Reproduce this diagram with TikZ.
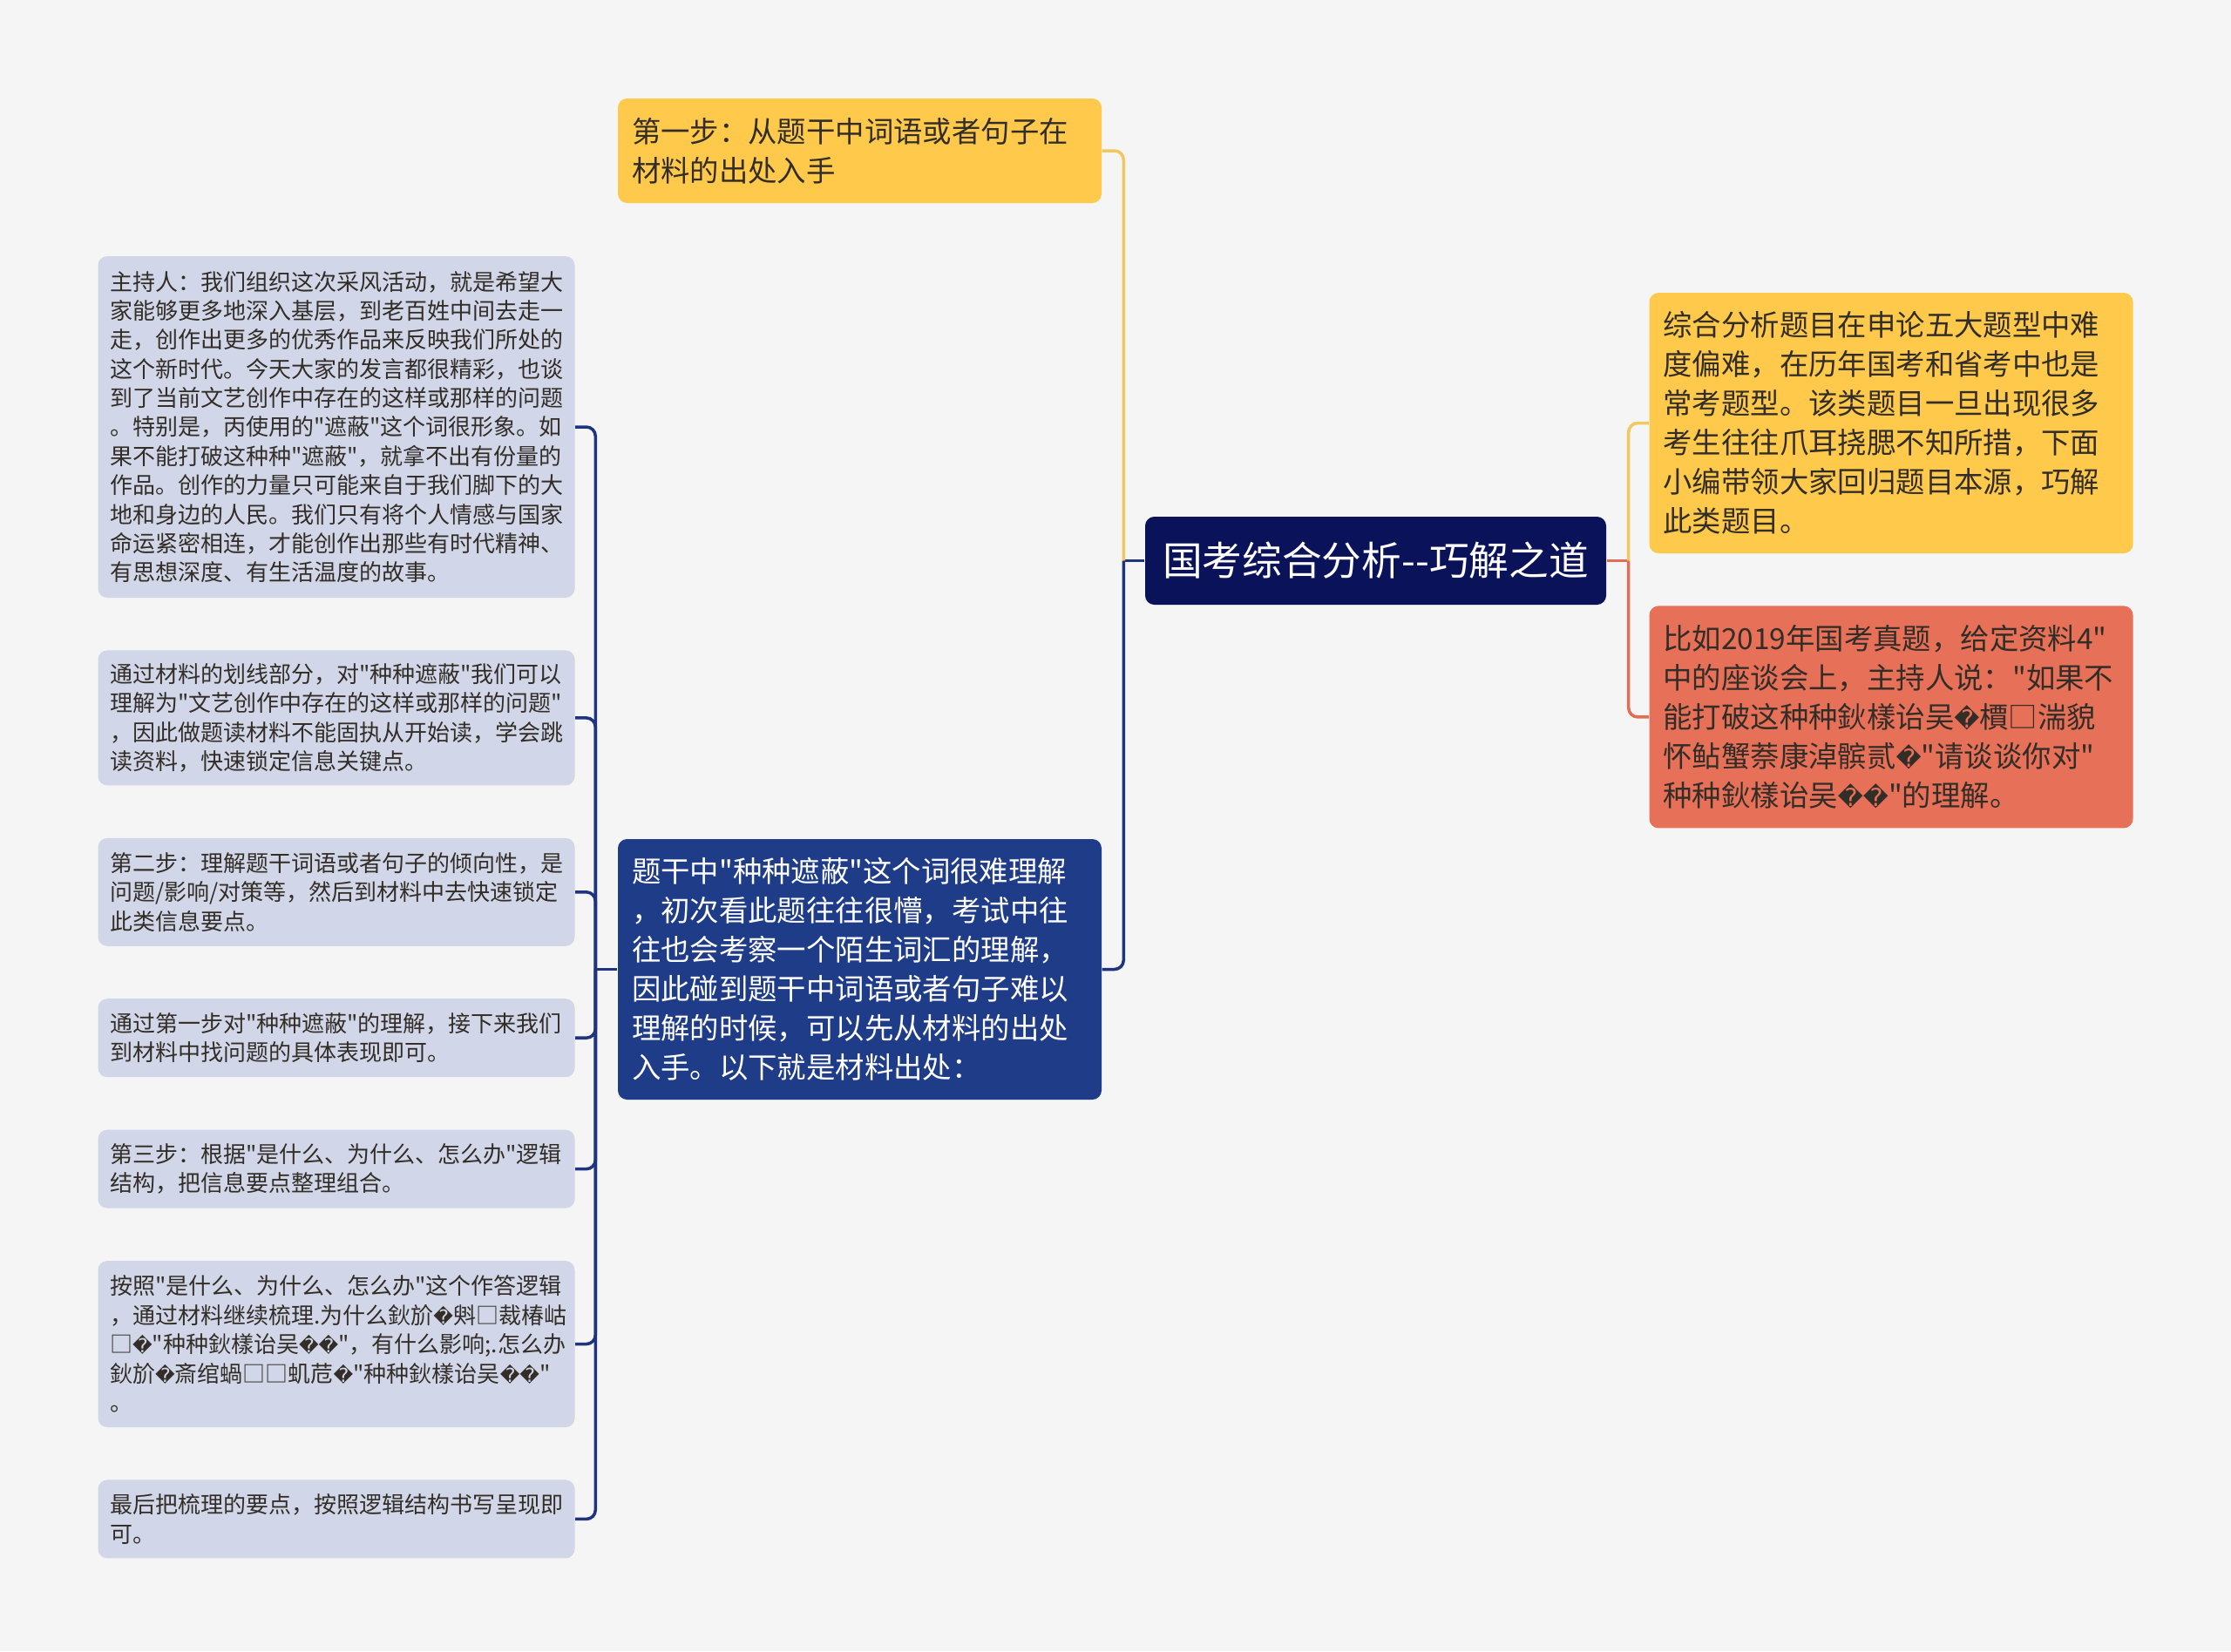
\documentclass[tikz,border=0pt]{standalone}
\usepackage{fontspec}
\newfontfamily\cjk{Noto Sans CJK SC}
\newfontfamily\repfont{DejaVu Sans}[Scale=0.85]
\newcommand\qm{{\repfont\char"FFFD}}
\usetikzlibrary{positioning}
\definecolor{bgcol}{RGB}{245,245,245}
\definecolor{rootnavy}{RGB}{10,18,90}
\definecolor{midblue}{RGB}{31,60,136}
\definecolor{sunny}{RGB}{255,201,76}
\definecolor{coral}{RGB}{230,112,88}
\definecolor{leafgray}{RGB}{209,215,232}
\definecolor{inkdark}{RGB}{51,45,40}
\definecolor{lineyellow}{RGB}{242,200,92}
\definecolor{lineblue}{RGB}{30,52,128}
\definecolor{linered}{RGB}{226,110,86}
\tikzstyle{topic} = [rectangle, rounded corners=3pt, fill=rootnavy, text=white, font=\cjk\fontsize{13pt}{16pt}\selectfont, inner xsep=0pt, minimum width=5.29cm, minimum height=1.01cm, align=center]
\tikzstyle{card} = [rectangle, rounded corners=3pt, text=inkdark, font=\cjk\fontsize{9.5pt}{12.8pt}\selectfont, text width=5.23cm, inner xsep=0.16cm, align=left]
\tikzstyle{leaf} = [rectangle, rounded corners=3pt, fill=leafgray, text=inkdark, font=\cjk\fontsize{7.4pt}{9.5pt}\selectfont, text width=5.2cm, inner xsep=0.135cm, align=left]
\tikzstyle{link} = [line width=1pt, rounded corners=3pt]

\begin{document}
\begin{tikzpicture}
            \fill[bgcol] (0,0) rectangle (25.6,-18.95);

            \node (root) [topic] at (15.785,-6.435) {国考综合分析--巧解之道};
            \node (stepone) [card, fill=sunny, minimum height=1.20cm] at (9.865,-1.73) {第一步：从题干中词语或者句子在\\材料的出处入手};
            \node (source) [card, fill=midblue, text=white, minimum height=2.99cm] at (9.865,-11.125) {题干中"种种遮蔽"这个词很难理解\\，初次看此题往往很懵，考试中往\\往也会考察一个陌生词汇的理解，\\因此碰到题干中词语或者句子难以\\理解的时候，可以先从材料的出处\\入手。以下就是材料出处：};
            \node (overview) [card, fill=sunny, minimum height=2.99cm] at (21.70,-4.855) {综合分析题目在申论五大题型中难\\度偏难，在历年国考和省考中也是\\常考题型。该类题目一旦出现很多\\考生往往爪耳挠腮不知所措，下面\\小编带领大家回归题目本源，巧解\\此类题目。};
            \node (example) [card, fill=coral, minimum height=2.55cm, below=0.59cm of overview] {比如2019年国考真题，给定资料4"\\中的座谈会上，主持人说："如果不\\能打破这种种鈥樣诒吴\qm 檟□湍貌\\怀鲇蟹萘康淖髌贰\qm"请谈谈你对"\\种种鈥樣诒吴\qm\qm"的理解。};

            \node (quote) [leaf, minimum height=3.92cm] at (3.86,-4.90) {主持人：我们组织这次采风活动，就是希望大\\家能够更多地深入基层，到老百姓中间去走一\\走，创作出更多的优秀作品来反映我们所处的\\这个新时代。今天大家的发言都很精彩，也谈\\到了当前文艺创作中存在的这样或那样的问题\\。特别是，丙使用的"遮蔽"这个词很形象。如\\果不能打破这种种"遮蔽"，就拿不出有份量的\\作品。创作的力量只可能来自于我们脚下的大\\地和身边的人民。我们只有将个人情感与国家\\命运紧密相连，才能创作出那些有时代精神、\\有思想深度、有生活温度的故事。};
            \node (reading) [leaf, minimum height=1.55cm, below=0.59cm of quote] {通过材料的划线部分，对"种种遮蔽"我们可以\\理解为"文艺创作中存在的这样或那样的问题"\\，因此做题读材料不能固执从开始读，学会跳\\读资料，快速锁定信息关键点。};
            \node (steptwo) [leaf, minimum height=1.24cm, below=0.59cm of reading] {第二步：理解题干词语或者句子的倾向性，是\\问题/影响/对策等，然后到材料中去快速锁定\\此类信息要点。};
            \node (findout) [leaf, minimum height=0.90cm, below=0.59cm of steptwo] {通过第一步对"种种遮蔽"的理解，接下来我们\\到材料中找问题的具体表现即可。};
            \node (stepthree) [leaf, minimum height=0.90cm, below=0.59cm of findout] {第三步：根据"是什么、为什么、怎么办"逻辑\\结构，把信息要点整理组合。};
            \node (sortout) [leaf, minimum height=1.91cm, below=0.59cm of stepthree] {按照"是什么、为什么、怎么办"这个作答逻辑\\，通过材料继续梳理.为什么鈥斺\qm 斞□裁椿岵\\□\qm"种种鈥樣诒吴\qm\qm"，有什么影响;.怎么办\\鈥斺\qm 斎绾蝸□□虮苊\qm"种种鈥樣诒吴\qm\qm"\\。};
            \node (finish) [leaf, minimum height=0.90cm, below=0.59cm of sortout] {最后把梳理的要点，按照逻辑结构书写呈现即\\可。};

            \coordinate [left=0.24cm of root.west] (lj);
            \coordinate [right=0.25cm of root.east] (rj);
            \coordinate [left=0.25cm of source.west] (sj);

            \draw [link, lineblue] (root.west) -- (lj);
            \draw [link, lineyellow] (lj) |- (stepone.east);
            \draw [link, lineblue] (lj) |- (source.east);
            \draw [link, linered] (root.east) -- (rj);
            \draw [link, lineyellow] (rj) |- (overview.west);
            \draw [link, linered] (rj) |- (example.west);
            \draw [link, lineblue] (source.west) -- (sj);
            \foreach \n in {quote,reading,steptwo,findout,stepthree,sortout,finish}
                \draw [link, lineblue] (sj) |- (\n.east);
\end{tikzpicture}
\end{document}
